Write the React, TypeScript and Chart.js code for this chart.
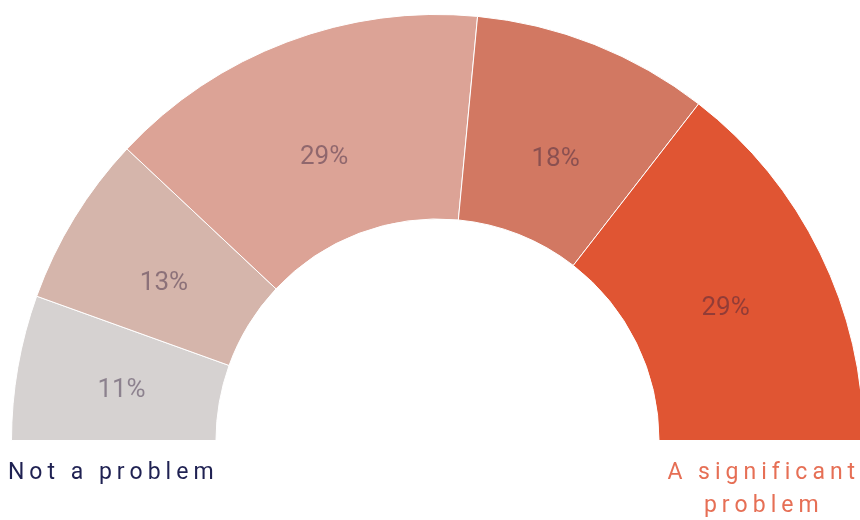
import { useEffect, useRef } from "react";
import { Chart, registerables } from "chart.js";

Chart.register(...registerables);

// ---- Data ----
const categories = ["Not a problem", "2", "3", "4", "A significant problem"];
const values = [11, 13, 29, 18, 29];
const valueLabels = ["11%", "13%", "29%", "18%", "29%"];
const colors = ["#d6d2d1", "#d5b5ab", "#dca396", "#d27862", "#e05533"];
const leftLabelLines = ["Not a problem"];
const rightLabelLines = ["A significant", "problem"];

function drawSpaced(ctx: CanvasRenderingContext2D, text: string, cx: number, y: number, spacing: number) {
  const chars = Array.from(text);
  const widths = chars.map((c) => ctx.measureText(c).width);
  const total = widths.reduce((a, b) => a + b, 0) + spacing * (chars.length - 1);
  let x = cx - total / 2;
  ctx.textAlign = "left";
  chars.forEach((c, i) => {
    ctx.fillText(c, x, y);
    x += widths[i] + spacing;
  });
}

const labelPlugin = {
  id: "halfDonutLabels",
  afterDatasetsDraw(chart: any) {
    const ctx: CanvasRenderingContext2D = chart.ctx;
    const meta = chart.getDatasetMeta(0);
    if (!meta.data.length) return;
    ctx.save();
    ctx.font = "400 26px Roboto";
    ctx.fillStyle = "rgba(50,30,60,0.45)";
    ctx.textAlign = "center";
    ctx.textBaseline = "alphabetic";
    let cx = 0, cy = 0, inner = 0, outer = 0;
    meta.data.forEach((arc: any, i: number) => {
      const p = arc.getProps(["x", "y", "startAngle", "endAngle", "innerRadius", "outerRadius"], true);
      cx = p.x; cy = p.y; inner = p.innerRadius; outer = p.outerRadius;
      const a = (p.startAngle + p.endAngle) / 2;
      const mid = (p.innerRadius + p.outerRadius) / 2;
      const rx = mid - 3;
      const ry = mid - 18;
      const x = p.x + rx * Math.cos(a);
      const y = p.y + ry * Math.sin(a);
      ctx.fillText(valueLabels[i], x, y + 9.3);
    });
    const band = (inner + outer) / 2;
    ctx.font = "400 23px Roboto";
    ctx.textBaseline = "alphabetic";
    ctx.fillStyle = "#1f2152";
    leftLabelLines.forEach((line, i) => drawSpaced(ctx, line, cx - band - 3, cy + 38 + i * 32.5, 5));
    ctx.fillStyle = "#e66f55";
    rightLabelLines.forEach((line, i) => drawSpaced(ctx, line, cx + band, cy + 38.5 + i * 32.5, 5));
    ctx.restore();
  },
};

export default function App() {
  const ref = useRef<HTMLCanvasElement | null>(null);
  useEffect(() => {
    if (!ref.current) return;
    const chart = new Chart(ref.current, {
      type: "doughnut",
      data: {
        labels: categories,
        datasets: [
          {
            data: values,
            backgroundColor: colors,
            borderColor: "#ffffff",
            borderWidth: 1,
            hoverOffset: 0,
          },
        ],
      },
      options: {
        responsive: false,
        maintainAspectRatio: false,
        animation: false,
        circumference: 180,
        rotation: -90,
        cutout: "52%",
        layout: { padding: { left: 11, top: 14, right: 16, bottom: 79 } },
        plugins: {
          legend: { display: false },
          tooltip: { enabled: false },
        },
      },
      plugins: [labelPlugin],
    } as any);
    return () => chart.destroy();
  }, []);
  return (
    <div
      style={{
        position: "fixed",
        left: 0,
        top: 0,
        width: 860,
        height: 520,
        overflow: "hidden",
        background: "#ffffff",
      }}
    >
      <canvas ref={ref} width={880} height={520} style={{ width: 880, height: 520, display: "block" }} />
    </div>
  );
}
